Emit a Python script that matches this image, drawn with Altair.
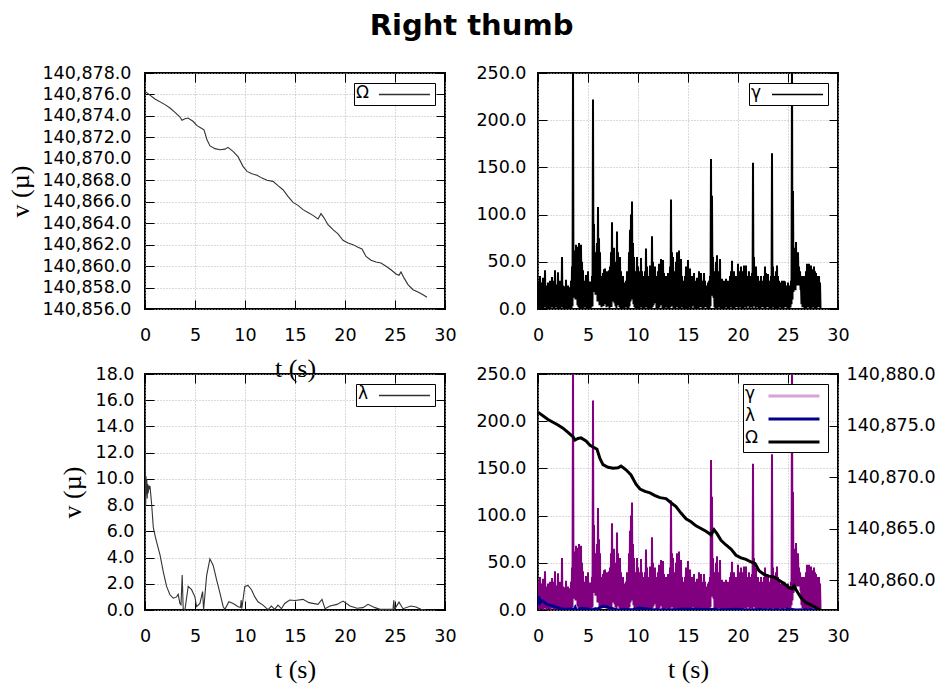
import altair as alt
import pandas as pd

# ---------------- data ----------------
# Omega (top-left panel, right axis of bottom-right panel)
omega_t = [0.0, 1.0, 2.0, 2.5, 3.0, 3.5, 3.7, 4.0, 4.3, 4.8,
           5.2, 5.6, 5.9, 6.2, 6.5, 7.0, 7.5, 8.0, 8.3, 8.8,
           9.3, 9.8, 10.2, 10.7, 11.2, 11.7, 12.2, 12.8, 13.3, 13.8,
           14.3, 14.8, 15.3, 15.8, 16.3, 16.8, 17.3, 17.6, 17.9, 18.3,
           18.8, 19.3, 19.8, 20.3, 20.8, 21.3, 21.7, 22.1, 22.6, 23.1,
           23.6, 24.1, 24.6, 25.1, 25.4, 25.6, 25.9, 26.3, 26.8, 27.3,
           27.8, 28.2]
omega_v = [140876.29, 140875.58, 140875.05, 140874.74, 140874.33, 140873.90, 140873.59, 140873.74, 140873.80, 140873.50,
           140873.09, 140872.87, 140872.70, 140871.78, 140871.20, 140870.95, 140870.85, 140870.90, 140871.07, 140870.70,
           140870.20, 140869.30, 140868.83, 140868.60, 140868.46, 140868.20, 140868.00, 140867.90, 140867.50, 140867.12,
           140866.50, 140865.94, 140865.66, 140865.26, 140865.00, 140864.73, 140864.39, 140864.89, 140864.50, 140863.86,
           140863.40, 140863.00, 140862.40, 140862.15, 140862.00, 140861.75, 140861.60, 140860.90, 140860.54, 140860.38,
           140860.29, 140859.98, 140859.66, 140859.26, 140859.14, 140859.45, 140858.90, 140858.27, 140857.80, 140857.58,
           140857.33, 140857.09]

# Lambda (bottom-left panel)
lambda_t = [0.0, 0.02, 0.04, 0.07, 0.1, 0.14, 0.18, 0.22, 0.27, 0.32,
            0.38, 0.45, 0.5, 0.66, 0.83, 1.0, 1.16, 1.5, 1.83, 2.16,
            2.49, 2.83, 3.16, 3.32, 3.49, 3.6, 3.72, 3.82, 3.99, 4.32,
            4.66, 4.99, 5.16, 5.49, 5.76, 5.86, 6.16, 6.49, 6.82, 7.16,
            7.49, 7.82, 7.99, 8.39, 8.82, 9.32, 9.55, 9.62, 9.68, 9.98,
            10.3, 10.65, 10.98, 11.3, 11.8, 12.3, 12.64, 12.97, 13.3, 13.64,
            13.97, 14.47, 15.0, 15.8, 16.4, 17.3, 17.7, 18.0, 18.5, 19.2,
            19.8, 20.5, 21.2, 21.8, 22.3, 23.0, 23.5, 24.8, 24.88, 24.95,
            25.4, 25.8, 26.6, 27.1, 27.6, 28.1]
lambda_v = [14.5, 7.5, 10.4, 8.0, 10.2, 8.8, 10.0, 8.5, 9.6, 8.9,
            9.5, 9.3, 9.45, 8.1, 6.3, 5.7, 5.2, 4.2, 2.9, 1.8,
            1.16, 0.9, 1.0, 1.2, 0.5, 0.4, 2.66, 0.1, 0.0, 1.8,
            1.55, 1.0, 0.25, 0.5, 1.4, 0.0, 2.6, 3.9, 3.4, 2.3,
            1.3, 0.25, 0.05, 0.63, 0.5, 0.25, 0.2, 0.75, 0.1, 1.8,
            1.87, 1.55, 1.0, 0.63, 0.37, 0.03, 0.3, 0.05, 0.37, 0.1,
            0.5, 0.76, 0.73, 0.81, 0.56, 0.43, 0.81, 0.1, 0.3, 0.43,
            0.68, 0.3, 0.13, 0.18, 0.43, 0.18, 0.05, 0.05, 0.74, 0.05,
            0.6, 0.1, 0.3, 0.23, 0.05, 0.0]

# Gamma: sampled every 0.1 s, a local high followed by a local low
gamma_peak = [30, 22, 35, 18, 28, 33, 20, 41, 25, 22,
              28, 18, 30, 24, 34, 22, 30, 41, 20, 26,
              39, 22, 30, 28, 55, 25, 24, 20, 31, 22,
              25, 18, 23, 30, 45, 262, 60, 62, 68, 55,
              66, 70, 58, 68, 50, 41, 30, 28, 36, 30,
              40, 25, 29, 22, 35, 222, 90, 60, 45, 70,
              108, 75, 60, 29, 35, 38, 42, 43, 30, 40,
              35, 41, 45, 60, 92, 50, 65, 45, 50, 82,
              60, 45, 55, 40, 30, 35, 28, 25, 30, 40,
              31, 60, 84, 100, 114, 70, 55, 40, 35, 55,
              45, 35, 40, 54, 40, 30, 35, 40, 64, 45,
              30, 35, 46, 40, 77, 50, 35, 45, 30, 35,
              40, 48, 35, 53, 40, 52, 38, 30, 35, 30,
              38, 30, 45, 116, 60, 55, 40, 30, 50, 60,
              45, 62, 50, 53, 35, 30, 28, 35, 45, 40,
              52, 30, 43, 25, 35, 31, 38, 28, 30, 33,
              25, 40, 32, 38, 30, 28, 38, 30, 25, 20,
              28, 30, 35, 159, 120, 55, 40, 35, 50, 57,
              40, 35, 53, 30, 32, 25, 30, 28, 32, 25,
              30, 28, 35, 40, 51, 35, 40, 30, 35, 28,
              48, 38, 40, 45, 35, 40, 46, 30, 46, 35,
              33, 40, 30, 35, 38, 155, 55, 40, 45, 30,
              35, 30, 25, 35, 30, 28, 35, 45, 38, 30,
              37, 30, 28, 35, 165, 45, 30, 35, 40, 46,
              35, 30, 25, 28, 30, 26, 30, 29, 25, 22,
              28, 25, 20, 30, 262, 125, 65, 60, 71, 55,
              60, 45, 40, 25, 35, 30, 35, 28, 40, 48,
              45, 48, 40, 46, 42, 38, 45, 40, 38, 35,
              30, 35, 28]
gamma_low = [2, 0, 5, 1, 3, 0, 4, 2, 0, 3,
             1, 4, 0, 2, 5, 1, 0, 3, 2, 0,
             3, 1, 0, 4, 2, 0, 5, 1, 3, 0,
             2, 0, 4, 1, 3, 12, 14, 10, 12, 4,
             2, 0, 5, 1, 3, 0, 2, 4, 0, 3,
             1, 4, 0, 2, 3, 20, 18, 15, 16, 8,
             12, 4, 6, 2, 8, 3, 10, 5, 2, 6,
             3, 0, 4, 2, 8, 10, 6, 3, 1, 4,
             5, 2, 0, 3, 1, 4, 0, 2, 5, 1,
             0, 3, 8, 12, 10, 5, 2, 0, 3, 1,
             4, 0, 2, 5, 1, 3, 0, 4, 2, 0,
             3, 1, 5, 0, 2, 4, 8, 6, 1, 3,
             0, 2, 4, 6, 1, 3, 0, 5, 2, 1,
             4, 0, 2, 8, 3, 1, 5, 0, 2, 4,
             1, 3, 0, 5, 2, 0, 4, 1, 3, 0,
             2, 5, 1, 0, 3, 4, 0, 2, 1, 5,
             0, 3, 2, 4, 1, 0, 5, 2, 3, 0,
             4, 1, 3, 14, 16, 12, 2, 0, 3, 1,
             5, 2, 0, 4, 1, 3, 0, 2, 5, 1,
             3, 0, 4, 2, 1, 5, 0, 3, 2, 4,
             0, 2, 5, 1, 3, 0, 4, 2, 1, 3,
             5, 0, 2, 4, 1, 8, 3, 0, 2, 5,
             1, 3, 0, 4, 2, 5, 0, 1, 3, 2,
             4, 0, 3, 1, 6, 2, 0, 5, 1, 3,
             0, 4, 2, 1, 5, 0, 3, 2, 4, 1,
             3, 0, 2, 5, 10, 18, 22, 20, 26, 25,
             27, 25, 24, 5, 2, 4, 1, 3, 0, 2,
             5, 1, 3, 0, 4, 2, 1, 5, 0, 3,
             2, 4, 1]

x_ticks = [0, 5, 10, 15, 20, 25, 30]
omega_ticks = [140856, 140858, 140860, 140862, 140864, 140866, 140868, 140870, 140872, 140874, 140876, 140878]
omega_ticks_right = [140860, 140865, 140870, 140875, 140880]
gamma_ticks = [0, 50, 100, 150, 200, 250]
lambda_ticks = [0, 2, 4, 6, 8, 10, 12, 14, 16, 18]

# ---------------- tables ----------------
df_omega = pd.DataFrame({"t": omega_t, "v": omega_v, "series": "Ω"})
df_lambda = pd.DataFrame({"t": lambda_t, "v": lambda_v, "series": "λ"})
g_t, g_v = [], []
for i, (hi, lo) in enumerate(zip(gamma_peak, gamma_low)):
    g_t += [round(i * 0.1, 3), round(i * 0.1 + 0.05, 3)]
    g_v += [hi, lo]
df_gamma = pd.DataFrame({"t": g_t, "v": g_v, "series": "γ"})

FONT = "DejaVu Sans"
SERIF = "Liberation Serif"
W, H = 300, 236
TICK = 9
OMEGA_DOM = [140856, 140878]
OMEGA_DOM_R = [min(omega_v), 140880]


def xs():
    return alt.Scale(domain=[0, 30], nice=False, zero=False)


def ys(dom):
    return alt.Scale(domain=dom, nice=False, zero=False)


def x_main(title=None):
    kw = dict(values=x_ticks, format="d", labelFlush=False, labelOverlap=False,
              ticks=False, domain=False, grid=True, labelPadding=17)
    if title:
        kw.update(title=title, titlePadding=12)
    else:
        kw.update(title=None)
    return alt.Axis(**kw)


def y_main(vals, fmt, title=None, lpad=12, tpad=4, orient="left", grid=True):
    kw = dict(values=vals, format=fmt, orient=orient, labelOverlap=False, ticks=False,
              domain=False, grid=grid, labelPadding=lpad)
    if title:
        kw.update(title=title, titlePadding=tpad)
    else:
        kw.update(title=None)
    return alt.Axis(**kw)


def tick_axis(orient, vals):
    return alt.Axis(orient=orient, values=vals, labels=False, domain=False, grid=False,
                    ticks=True, tickSize=TICK, offset={"expr": str(-TICK)}, title=None,
                    tickColor="black", tickWidth=1)


def tick_layer(df, ydom, xorient, yorient, yvals):
    return alt.Chart(df).mark_line(opacity=0).encode(
        x=alt.X("t:Q", scale=xs(), axis=tick_axis(xorient, x_ticks)),
        y=alt.Y("v:Q", scale=ys(ydom), axis=tick_axis(yorient, yvals)),
    )


def legend(names, sw):
    # gnuplot-style key: the names stand on the left (as the legend title),
    # the line samples on the right
    return alt.Legend(title=names if len(names) > 1 else names[0],
                      titleOrient="left", titleAnchor="start", titleBaseline="top",
                      titleLineHeight=22, titlePadding=0,
                      titleFont=FONT, titleFontSize=17, titleFontWeight="normal",
                      titleColor="black",
                      orient="top-right", offset=10, strokeColor="black",
                      fillColor="white", padding=2, symbolType="M-3,0H3", symbolSize=289,
                      symbolStrokeWidth=sw, symbolOffset=26, labelOpacity=0,
                      labelFont=FONT, labelFontSize=17, rowPadding=5)


def single_panel(df, ydom, yvals, fmt, color, xtitle, ytitle, lpad, tpad, name, sw):
    main = alt.Chart(df).mark_line(strokeWidth=sw, clip=True).encode(
        x=alt.X("t:Q", scale=xs(), axis=x_main(xtitle)),
        y=alt.Y("v:Q", scale=ys(ydom), axis=y_main(yvals, fmt, ytitle, lpad, tpad)),
        color=alt.Color("series:N", scale=alt.Scale(domain=[name], range=[color]),
                        legend=legend([name], 1.5)),
    )
    return alt.layer(
        main,
        tick_layer(df, ydom, "bottom", "left", yvals),
        tick_layer(df, ydom, "top", "right", yvals),
    ).resolve_scale(x="independent", y="independent").properties(width=W, height=H)


tl = single_panel(df_omega, OMEGA_DOM, omega_ticks, ",.1f", "#333333",
                  "t (s)", "v (µ)", 14, 8, "Ω", 1.1)
tr = single_panel(df_gamma, [0, 250], gamma_ticks, ".1f", "#000000",
                  None, None, 12, 4, "γ", 2.0)
bl = single_panel(df_lambda, [0, 18], lambda_ticks, ".1f", "#333333",
                  "t (s)", "v (µ)", 11, 10, "λ", 1.1)

# bottom-right: combined, with a second y axis for Omega
br_names = ["γ", "λ", "Ω"]
legend_scale = alt.Scale(domain=br_names, range=["#d6a3d6", "#00008b", "#000000"])
br_gamma = alt.Chart(df_gamma).mark_line(color="#800080", strokeWidth=2.0, clip=True).encode(
    x=alt.X("t:Q", scale=xs(), axis=x_main("t (s)")),
    y=alt.Y("v:Q", scale=ys([0, 250]), axis=y_main(gamma_ticks, ".1f", None, 12)),
)
br_lambda = alt.Chart(df_lambda).mark_line(strokeWidth=3, clip=True).encode(
    x=alt.X("t:Q", scale=xs(), axis=None),
    y=alt.Y("v:Q", scale=ys([0, 250]), axis=None),
    color=alt.Color("series:N", scale=legend_scale, legend=legend(br_names, 3)),
)
br_omega = alt.Chart(df_omega).mark_line(strokeWidth=3, clip=True).encode(
    x=alt.X("t:Q", scale=xs(), axis=None),
    y=alt.Y("v:Q", scale=ys(OMEGA_DOM_R),
            axis=y_main(omega_ticks_right, ",.1f", None, 8, orient="right", grid=False)),
    color=alt.Color("series:N", scale=legend_scale, legend=legend(br_names, 3)),
)
br = alt.layer(
    br_gamma, br_lambda, br_omega,
    tick_layer(df_gamma, [0, 250], "bottom", "left", gamma_ticks),
    tick_layer(df_omega, OMEGA_DOM_R, "top", "right", omega_ticks_right),
).resolve_scale(x="independent", y="independent").properties(width=W, height=H)

chart = alt.concat(
    tl, tr, bl, br, columns=2, bounds="flush",
    spacing={"row": 65, "column": 93},
).resolve_scale(color="independent").properties(
    title=alt.Title("Right thumb", font=FONT, fontSize=29, fontWeight="bold",
                    color="black", anchor="middle", frame="bounds", offset=20),
    padding={"left": 6, "top": 11, "right": 5, "bottom": 5},
).configure_view(
    stroke="black", strokeWidth=2
).configure_axis(
    labelFont=FONT, labelFontSize=17.5, labelColor="black",
    titleFont=SERIF, titleFontSize=26, titleFontWeight="normal", titleColor="black",
    gridColor="#b4b4b4", gridDash=[1, 2], gridWidth=1,
)

chart.save("out.html", embed_options={"renderer": "svg", "actions": False})
